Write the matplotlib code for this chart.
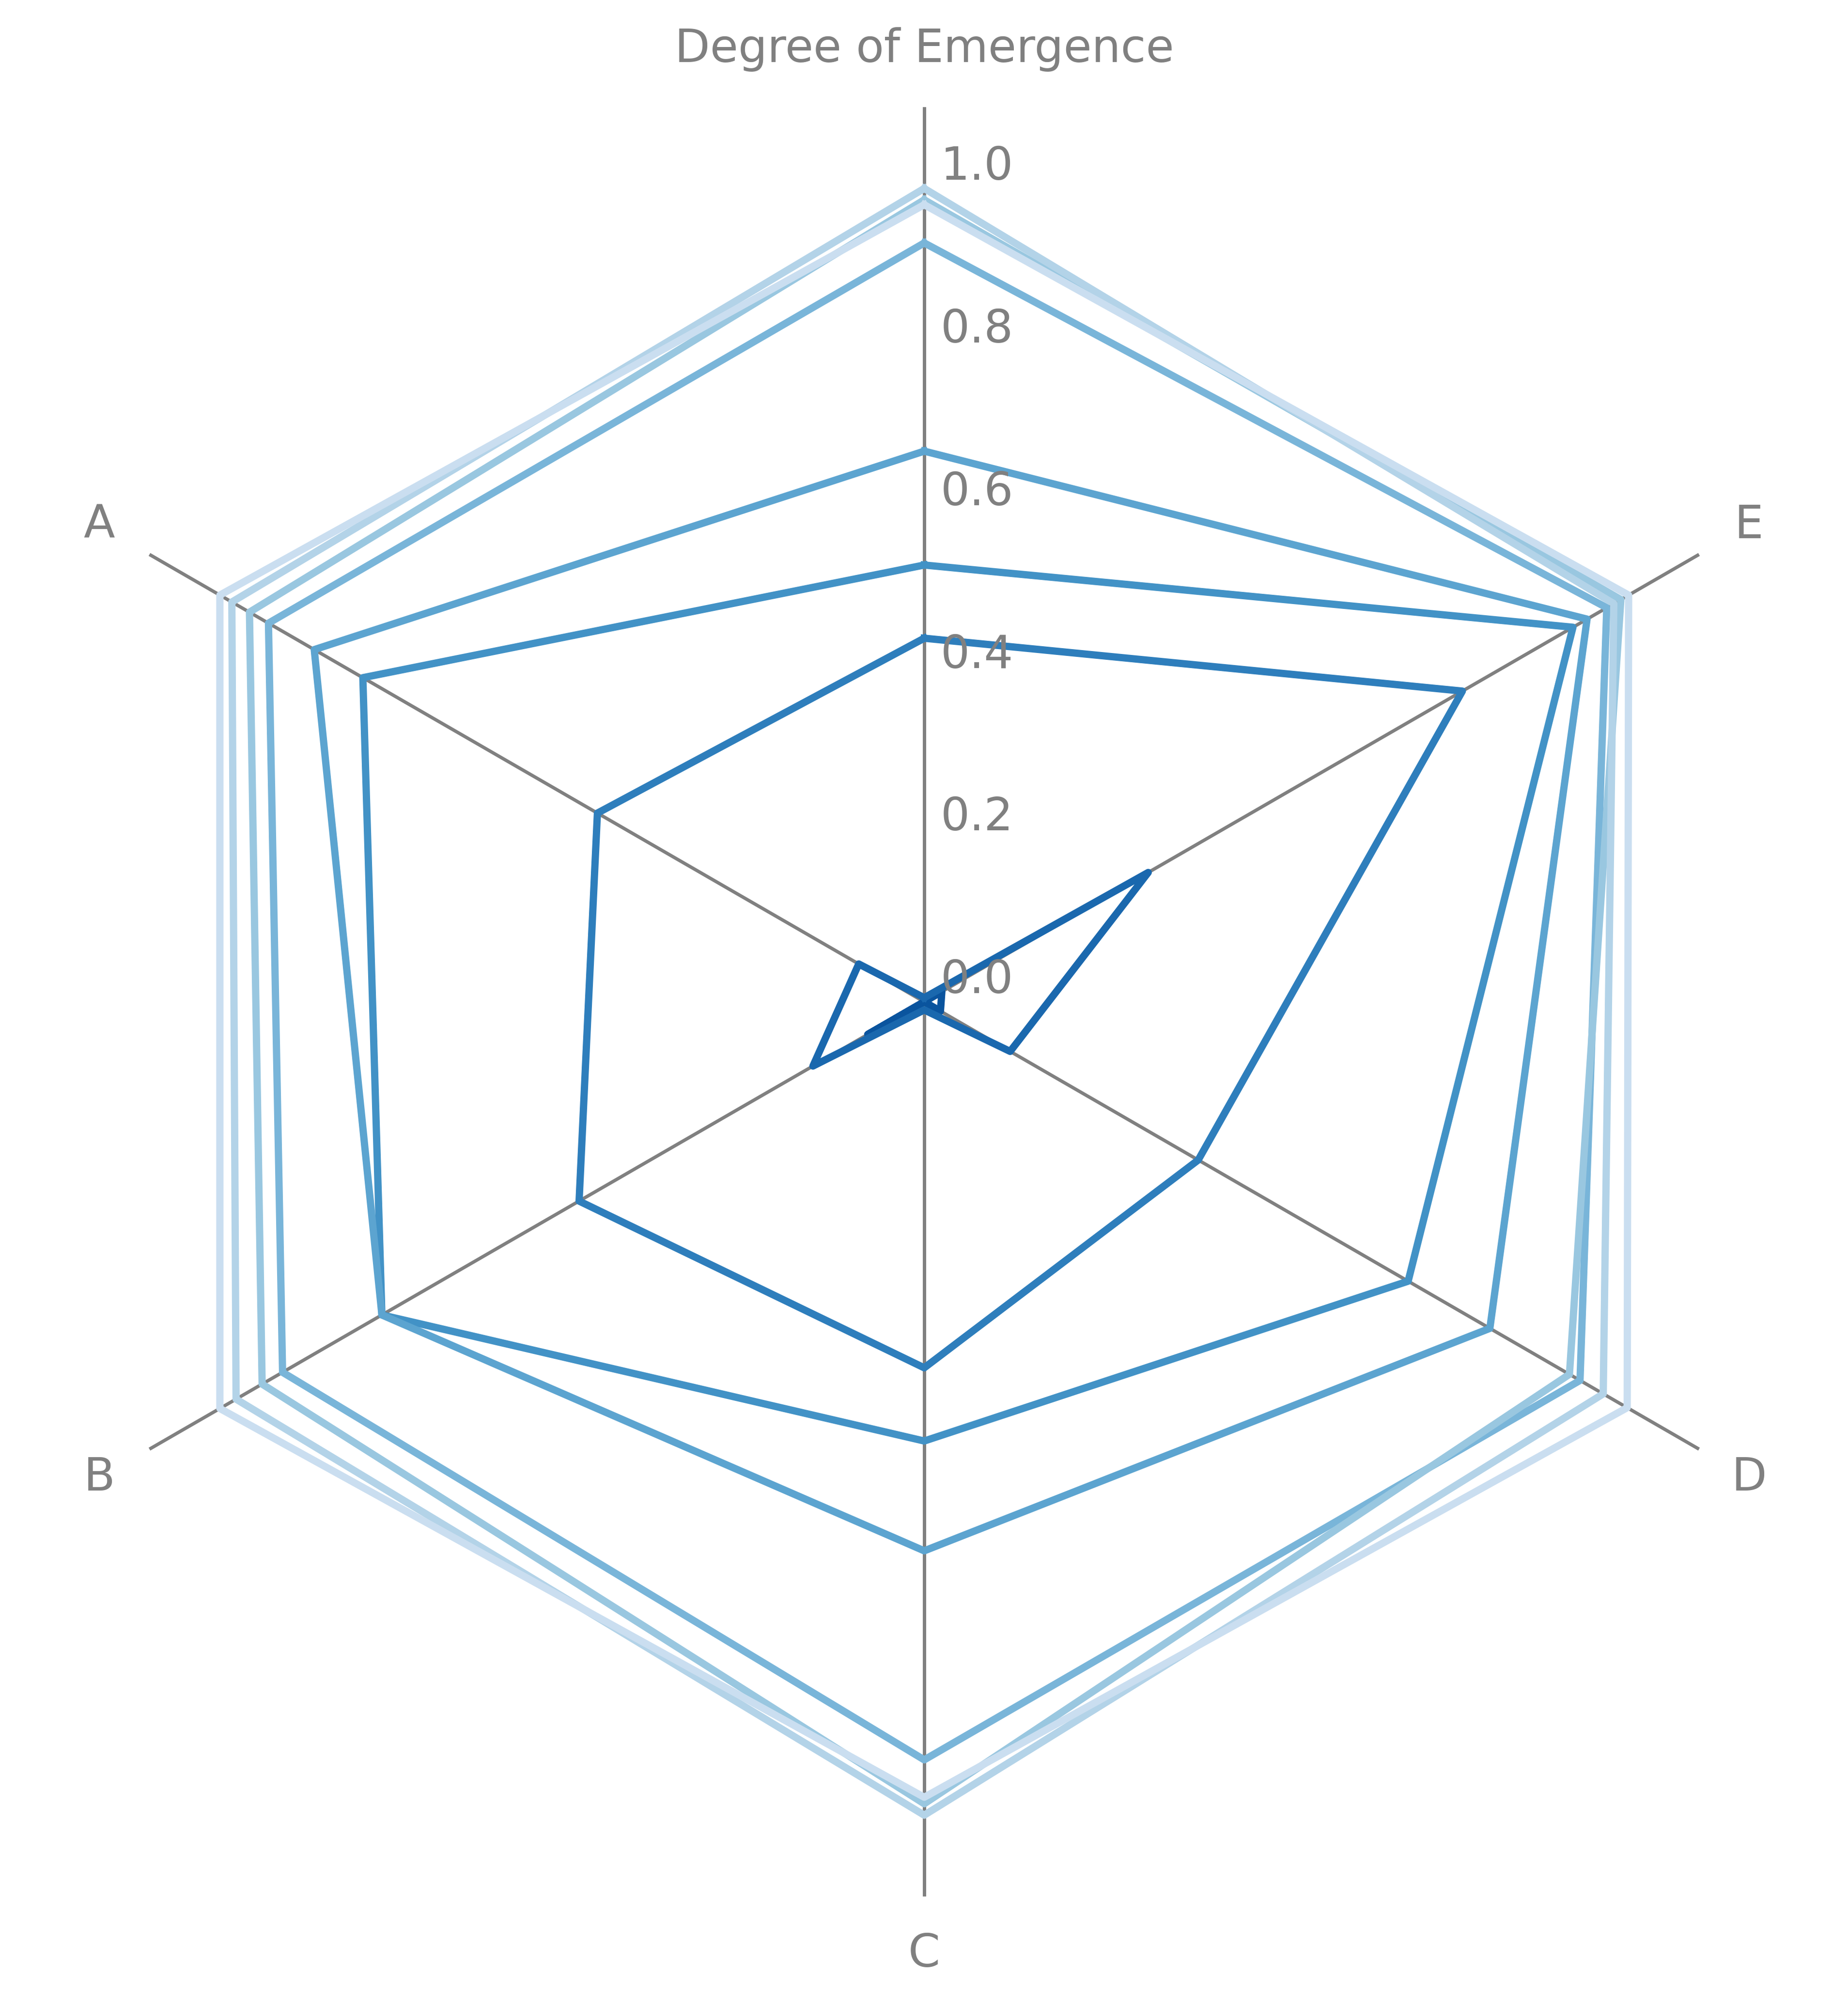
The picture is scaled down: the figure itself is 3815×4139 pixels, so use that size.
import numpy as np
import matplotlib
matplotlib.use('Agg')
import matplotlib.pyplot as plt
from matplotlib.transforms import offset_copy

# categories, counter-clockwise from the top spoke
categories = ['Degree of Emergence', 'A', 'B', 'C', 'D', 'E']
r_ticks = [0.0, 0.2, 0.4, 0.6, 0.8, 1.0]

# one list per stage, darkest (earliest) to lightest
s1 = [0.00, 0.00, 0.08, 0.00, 0.023, 0.025]
s2 = [0.005, 0.093, 0.158, 0.01, 0.122, 0.318]
s3 = [0.447, 0.464, 0.49, 0.45, 0.389, 0.764]
s4 = [0.537, 0.797, 0.77, 0.54, 0.687, 0.921]
s5 = [0.677, 0.866, 0.77, 0.675, 0.803, 0.941]
s6 = [0.933, 0.931, 0.911, 0.932, 0.931, 0.969]
s7 = [0.986, 0.958, 0.940, 0.986, 0.916, 0.989]
s8 = [1.0, 0.983, 0.977, 1.0, 0.964, 0.979]
s9 = [0.980, 1.0, 1.0, 0.978, 0.998, 1.0]
series = [s1, s2, s3, s4, s5, s6, s7, s8, s9]

fig = plt.figure(figsize=(9.54, 10.3475), dpi=400)
ax = fig.add_axes([0.016, 0.0541, 0.968, 0.8925], projection='polar')
ax.set_theta_offset(np.pi / 2)

angles = np.linspace(0, 2 * np.pi, len(categories), endpoint=False)
colors = plt.cm.Blues(np.linspace(0.86, 0.23, len(series)))

for vals, c in zip(series, colors):
    ax.plot(np.append(angles, angles[0]), vals + vals[:1], color=c, lw=2.7)

ax.set_ylim(0, 1.1)
ax.set_xticks(angles)
ax.set_xticklabels(categories, color='gray', fontsize=17)
ax.tick_params(axis='x', pad=14.5, length=0)
ax.set_yticks(r_ticks)
ax.set_yticklabels([])
ax.tick_params(axis='y', length=0)
ax.yaxis.grid(False)
ax.xaxis.grid(True, color='gray', lw=1.25)
ax.spines['polar'].set_visible(False)

# radial labels along the top spoke
trans = offset_copy(ax.transData, fig=fig, x=6, y=3.2, units='points')
for r in r_ticks:
    ax.text(0, r, f'{r:.1f}', transform=trans, ha='left', va='baseline',
            color='gray', fontsize=17)

fig.savefig('out.png', dpi=400)
